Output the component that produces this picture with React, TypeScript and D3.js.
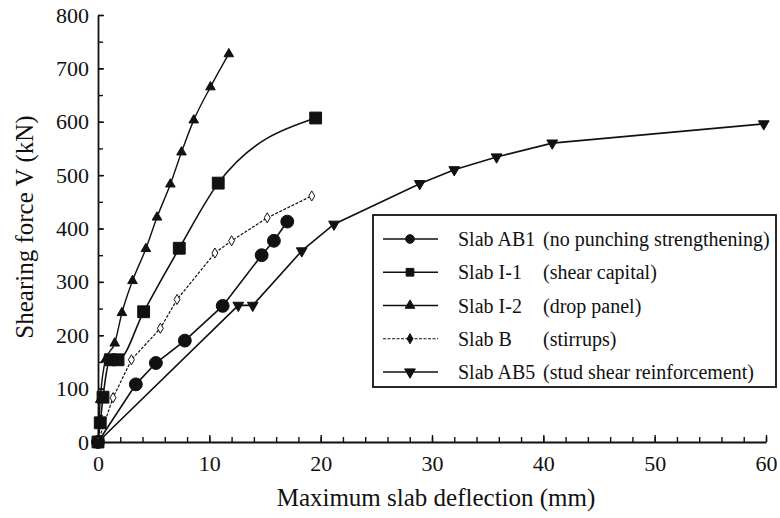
import * as d3 from 'd3';
import { useRef, useEffect } from 'react';

// deflection (mm) and shearing force (kN)
const deflAB1 = [0, 3.4, 5.2, 7.8, 11.2, 14.7, 15.8, 17.0];
const shearAB1 = [0, 108, 148, 190, 255, 350, 377, 413];
const deflI1 = [0, 0.2, 0.45, 1.1, 1.8, 4.1, 7.3, 10.8, 19.55];
const shearI1 = [0, 36, 84, 154, 154, 244, 363, 485, 607];
const deflI2 = [0, 0.2, 0.7, 1.5, 2.15, 3.1, 4.3, 5.3, 6.5, 7.5, 8.6, 10.1, 11.75];
const shearI2 = [0, 79, 155, 185, 242, 302, 362, 421, 483, 543, 603, 665, 727];
const deflB = [0, 1.35, 3.0, 5.6, 7.1, 10.5, 12.0, 15.2, 19.2];
const shearB = [0, 83, 154, 213, 267, 354, 377, 420, 461];
const deflAB5 = [0, 12.6, 13.9, 18.3, 21.2, 28.9, 32.0, 35.8, 40.8, 59.8];
const shearAB5 = [0, 256, 256, 358, 408, 484, 510, 534, 560, 596];

const slabNames = ['Slab AB1', 'Slab I-1', 'Slab I-2', 'Slab B', 'Slab AB5'];
const slabNotes = ['(no punching strengthening)', '(shear capital)', '(drop panel)', '(stirrups)', '(stud shear reinforcement)'];

const xTicks = [0, 10, 20, 30, 40, 50, 60];
const yTicks = [0, 100, 200, 300, 400, 500, 600, 700, 800];

const FONT = 'Liberation Serif';

const App = () => {
  const svgRef = useRef<SVGSVGElement>(null);

  useEffect(() => {
    const svg = d3.select(svgRef.current);
    svg.selectAll('*').remove();
    const width = 780;
    const height = 518;
    svg.attr('width', width).attr('height', height);

    const x = d3.scaleLinear().domain([0, 60]).range([98, 766]);
    const y = d3.scaleLinear().domain([0, 800]).range([442, 15]);

    const series = [
      { xs: deflAB1, ys: shearAB1, sym: d3.symbolCircle, size: 130, rot: 0, fill: '#111', curve: d3.curveLinear, dash: null, w: 1.6 },
      { xs: deflI1, ys: shearI1, sym: d3.symbolSquare, size: 140, rot: 0, fill: '#111', curve: d3.curveMonotoneX, dash: null, w: 1.6 },
      { xs: deflI2, ys: shearI2, sym: d3.symbolTriangle, size: 40, rot: 0, fill: '#111', curve: d3.curveMonotoneX, dash: null, w: 1.4 },
      { xs: deflB, ys: shearB, sym: d3.symbolDiamond, size: 30, rot: 0, fill: '#fff', curve: d3.curveLinear, dash: '3,1.5', w: 1.2 },
      { xs: deflAB5, ys: shearAB5, sym: d3.symbolTriangle, size: 50, rot: 180, fill: '#111', curve: d3.curveLinear, dash: null, w: 1.6 },
    ];

    const styleText = sel => sel.style('font-family', FONT).attr('fill', '#111');

    // axes: minor ticks every 2 mm / 50 kN, labelled majors on top
    const xMinor = svg.append('g').attr('transform', 'translate(0,442)')
      .call(d3.axisBottom(x).tickValues(d3.range(0, 61, 2)).tickSize(-5).tickSizeOuter(0).tickFormat(() => ''));
    xMinor.select('.domain').attr('stroke-width', 1.8).attr('stroke', '#111');
    xMinor.selectAll('.tick line').attr('stroke-width', 1.4).attr('stroke', '#111');

    const xMajor = svg.append('g').attr('transform', 'translate(0,442)')
      .call(d3.axisBottom(x).tickValues(xTicks).tickSize(-7).tickSizeOuter(0).tickPadding(13));
    xMajor.attr('font-family', null).attr('font-size', 22);
    xMajor.select('.domain').remove();
    xMajor.selectAll('.tick line').attr('stroke-width', 1.4).attr('stroke', '#111');
    xMajor.selectAll('text').call(styleText);

    const yMinor = svg.append('g').attr('transform', 'translate(98,0)')
      .call(d3.axisLeft(y).tickValues(d3.range(0, 801, 50)).tickSize(-5).tickSizeOuter(0).tickFormat(() => ''));
    yMinor.select('.domain').attr('stroke-width', 1.8).attr('stroke', '#111');
    yMinor.selectAll('.tick line').attr('stroke-width', 1.4).attr('stroke', '#111');

    const yMajor = svg.append('g').attr('transform', 'translate(98,0)')
      .call(d3.axisLeft(y).tickValues(yTicks).tickSize(-6).tickSizeOuter(0).tickPadding(9));
    yMajor.attr('font-family', null).attr('font-size', 22);
    yMajor.select('.domain').remove();
    yMajor.selectAll('.tick line').attr('stroke-width', 1.4).attr('stroke', '#111');
    yMajor.selectAll('text').call(styleText);

    svg.append('text')
      .attr('x', 436).attr('y', 506)
      .attr('text-anchor', 'middle')
      .attr('font-size', 25)
      .call(styleText)
      .text('Maximum slab deflection (mm)');

    svg.append('text')
      .attr('transform', 'translate(33,227) rotate(-90)')
      .attr('text-anchor', 'middle')
      .attr('font-size', 25)
      .call(styleText)
      .text('Shearing force V (kN)');

    // curves and markers
    series.forEach(s => {
      const pts = s.xs.map((d, i) => [d, s.ys[i]]);
      const line = d3.line().x(d => x(d[0])).y(d => y(d[1])).curve(s.curve);
      svg.append('path')
        .attr('d', line(pts))
        .attr('fill', 'none')
        .attr('stroke', '#111')
        .attr('stroke-width', s.w)
        .attr('stroke-dasharray', s.dash);
      svg.append('g').selectAll('path')
        .data(pts)
        .enter().append('path')
        .attr('d', d3.symbol().type(s.sym).size(s.size)())
        .attr('transform', d => `translate(${x(d[0])},${y(d[1])}) rotate(${s.rot})`)
        .attr('fill', s.fill)
        .attr('stroke', '#111')
        .attr('stroke-width', 1);
    });

    // legend
    const legend = svg.append('g');
    legend.append('rect')
      .attr('x', 373).attr('y', 215).attr('width', 403).attr('height', 172)
      .attr('fill', '#fff').attr('stroke', '#111').attr('stroke-width', 1.8);

    const rowY = d3.scalePoint().domain(slabNames).range([239, 372]);
    slabNames.forEach((name, i) => {
      const s = series[i];
      const cy = rowY(name);
      legend.append('line')
        .attr('x1', 383).attr('x2', 438).attr('y1', cy).attr('y2', cy)
        .attr('stroke', '#111').attr('stroke-width', s.w).attr('stroke-dasharray', s.dash);
      legend.append('path')
        .attr('d', d3.symbol().type(s.sym).size(Math.min(s.size, 60))())
        .attr('transform', `translate(410,${cy}) rotate(${s.rot})`)
        .attr('fill', i === 3 ? '#111' : s.fill).attr('stroke', '#111');
      legend.append('text')
        .attr('x', 458).attr('y', cy).attr('dy', '0.35em')
        .attr('font-size', 20)
        .call(styleText)
        .text(name);
      legend.append('text')
        .attr('x', 543).attr('y', cy).attr('dy', '0.35em')
        .attr('font-size', 20)
        .call(styleText)
        .text(slabNotes[i]);
    });
  }, []);

  return (
    <div style={{ position: 'absolute', left: 0, top: 0, background: '#fff' }}>
      <svg ref={svgRef}></svg>
    </div>
  );
};

export default App;
